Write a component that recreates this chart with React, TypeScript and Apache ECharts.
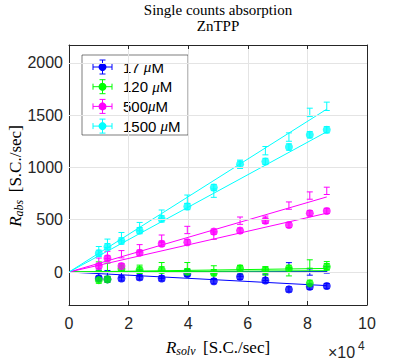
import React, { useEffect, useRef } from "react";
import * as echarts from "echarts";

// x positions (units of 10^4 S.C./sec)
const xVals = [1.0, 1.29, 1.76, 2.37, 3.11, 3.97, 4.86, 5.74, 6.59, 7.38, 8.08, 8.65];

// 17 uM
const blueDots = [-60, -70, -61, -51, -61, -19, -88, -45, -80, -166, -141, -134];
const blueBars = [-13, -15, -20, -10, -30, -5, -40, -10, -51, 60, 0, 20];
// 120 uM
const greenDots = [-77, -70, 30, 19, 20, 3, -6, 35, 19, 35, -108, 51];
const greenBars = [57, 45, 35, 26, 51, 51, 20, 20, 10, 3, 77, 60];
// 500 uM
const magentaDots = [57, 131, 57, 185, 271, 285, 386, 396, 491, 450, 562, 584];
const magentaBars = [99, 163, 170, 227, 319, 402, 348, 491, 500, 635, 731, 776];
// 1500 uM
const cyanDots = [179, 242, 297, 396, 508, 626, 808, 1030, 1057, 1195, 1312, 1360];
const cyanBars = [204, 275, 338, 434, 553, 696, 754, 1030, 1160, 1290, 1526, 1584];

// error half-lengths
const dotErr = [25, 30, 25, 30];
const barErr = [30, 40, 35, 40];

// fitted slopes through origin (per 10^4)
const upperSlopes = [0.5, 4, 83, 180];
const lowerSlopes = [-15, 1.5, 65, 155];
const fitXEnd = 8.65;

const colors = ["#0000ff", "#00ff00", "#ff00ff", "#00ffff"];
const legendNums = ["17 ", "120 ", "500", "1500 "];

const yTicks = [0, 500, 1000, 1500, 2000];
const yMin = -315;
const yMax = 2170;
const xTicks = [0, 2, 4, 6, 8, 10];

const titleLines = ["Single counts absorption", "ZnTPP"];
const xLabelMain = "R";
const xLabelSub = "solv";
const yLabelSub = "abs";
const unitText = "[S.C./sec]";

const dotsAll = [blueDots, greenDots, magentaDots, cyanDots];
const barsAll = [blueBars, greenBars, magentaBars, cyanBars];

const SERIF = "'Liberation Serif', 'DejaVu Serif', serif";
const SANS = "'Liberation Sans', Arial, sans-serif";

let measureCtx: CanvasRenderingContext2D | null = null;
function measure(text: string, size: number, family: string, italic = false): number {
  try {
    if (!measureCtx) measureCtx = document.createElement("canvas").getContext("2d");
    if (!measureCtx) return text.length * size * 0.55;
    measureCtx.font = (italic ? "italic " : "") + size + "px " + family;
    return measureCtx.measureText(text).width;
  } catch (e) {
    return text.length * size * 0.55;
  }
}
function fitSize(text: string, family: string, target: number, lo: number, hi: number, italic = false) {
  const w = measure(text, 100, family, italic);
  if (!(w > 0)) return (lo + hi) / 2;
  return Math.max(lo, Math.min(hi, (100 * target) / w));
}

function errSeries(ys: number[], err: number, color: string, z: number) {
  return {
    type: "custom",
    silent: true,
    z,
    clip: true,
    encode: { x: 0, y: 1 },
    data: xVals.map((x, i) => [x, ys[i], err]),
    renderItem: (params: any, api: any) => {
      const x = api.value(0);
      const y = api.value(1);
      const e = api.value(2);
      const t = api.coord([x, y + e]);
      const b = api.coord([x, y - e]);
      const w = 3;
      const st = { stroke: color, lineWidth: 1 };
      return {
        type: "group",
        children: [
          { type: "line", shape: { x1: t[0], y1: t[1], x2: b[0], y2: b[1] }, style: st },
          { type: "line", shape: { x1: t[0] - w, y1: t[1], x2: t[0] + w, y2: t[1] }, style: st },
          { type: "line", shape: { x1: b[0] - w, y1: b[1], x2: b[0] + w, y2: b[1] }, style: st },
        ],
      };
    },
  };
}

// text element whose vertical centre sits at cy
function txt(text: string, x: number, cy: number, size: number, family: string, italic = false, align = "left", fill = "#000") {
  return {
    type: "text",
    x,
    y: cy,
    style: {
      text,
      fontSize: size,
      fontFamily: family,
      fontStyle: italic ? "italic" : "normal",
      lineHeight: size,
      fill,
      align,
      verticalAlign: "middle",
    },
  };
}

export default function App() {
  const ref = useRef<HTMLDivElement>(null);
  useEffect(() => {
    if (!ref.current) return;
    const chart = echarts.init(ref.current, null, { renderer: "svg" });
    const axisCol = "#262626";
    const gridCol = "#e4e4e4";

    const series: any[] = [];
    // horizontal grid lines at the y tick values
    series.push({
      type: "line",
      silent: true,
      z: 0,
      symbol: "none",
      lineStyle: { opacity: 0 },
      data: [[0, 0]],
      markLine: {
        silent: true,
        symbol: "none",
        animation: false,
        label: { show: false },
        lineStyle: { color: gridCol, type: "solid", width: 1 },
        data: yTicks.map((v) => ({ yAxis: v })),
      },
    });
    colors.forEach((c, i) => {
      series.push(errSeries(barsAll[i], barErr[i], c, 2));
      series.push(errSeries(dotsAll[i], dotErr[i], c, 2));
      [upperSlopes[i], lowerSlopes[i]].forEach((s) => {
        series.push({
          type: "line",
          silent: true,
          z: 3,
          symbol: "none",
          lineStyle: { color: c, width: 1 },
          data: [
            [0, 0],
            [fitXEnd, s * fitXEnd],
          ],
        });
      });
      series.push({
        type: "scatter",
        silent: true,
        z: 4,
        symbol: "circle",
        symbolSize: 8,
        itemStyle: { color: c },
        data: xVals.map((x, k) => [x, dotsAll[i][k]]),
      });
    });

    // sizes fitted to the reference's text widths
    const titleSize = fitSize(titleLines[0], SERIF, 198, 13, 15);
    const labSize = fitSize(unitText, SERIF, 75, 13, 17);
    const subSize = labSize * 0.7;
    const legSize = fitSize("1500 M", SANS, 52, 12, 15);

    const legendChildren: any[] = [
      {
        type: "rect",
        shape: { x: 82, y: 55, width: 106, height: 80 },
        style: { fill: "#fff", stroke: axisCol, lineWidth: 0.6 },
      },
    ];
    colors.forEach((c, i) => {
      const cy = 67 + i * 19.7;
      const cx = 102.5;
      const st = { stroke: c, lineWidth: 1 };
      const wNum = measure(legendNums[i], legSize, SANS);
      const wMu = measure("μ", legSize, SERIF, true);
      legendChildren.push(
        { type: "line", shape: { x1: 93, y1: cy, x2: 112, y2: cy }, style: st },
        { type: "line", shape: { x1: 93, y1: cy - 3, x2: 93, y2: cy + 3 }, style: st },
        { type: "line", shape: { x1: 112, y1: cy - 3, x2: 112, y2: cy + 3 }, style: st },
        { type: "line", shape: { x1: cx, y1: cy - 7, x2: cx, y2: cy + 7 }, style: st },
        { type: "line", shape: { x1: cx - 3, y1: cy - 7, x2: cx + 3, y2: cy - 7 }, style: st },
        { type: "line", shape: { x1: cx - 3, y1: cy + 7, x2: cx + 3, y2: cy + 7 }, style: st },
        { type: "circle", shape: { cx, cy, r: 4 }, style: { fill: c } },
        txt(legendNums[i], 123, cy, legSize, SANS),
        txt("μ", 123 + wNum, cy, legSize, SERIF, true),
        txt("M", 123 + wNum + wMu, cy, legSize, SANS)
      );
    });

    // axis titles laid out from measured widths, centred on the plot
    const wR = measure(xLabelMain, labSize, SERIF, true);
    const wXs = measure(xLabelSub, subSize, SERIF, true);
    const wYs = measure(yLabelSub, subSize, SERIF, true);
    const wU = measure(unitText, labSize, SERIF);
    const gap = labSize * 0.45;
    const xTotal = wR + wXs + gap + wU;
    const xStart = 218 - xTotal / 2;
    const yTotal = wR + wYs + gap + wU;
    const yStart = 176 + yTotal / 2;

    const option: any = {
      animation: false,
      grid: { left: 69, right: 40, top: 45, bottom: 56 },
      xAxis: [
        {
          type: "value",
          min: xTicks[0],
          max: xTicks[xTicks.length - 1],
          interval: 2,
          position: "bottom",
          axisLine: { show: true, onZero: false, lineStyle: { color: axisCol } },
          axisTick: { show: true, inside: true, length: 4, lineStyle: { color: axisCol } },
          axisLabel: { fontSize: 16, fontFamily: SANS, color: axisCol, margin: 10 },
          splitLine: { show: true, lineStyle: { color: gridCol } },
        },
        {
          type: "value",
          min: xTicks[0],
          max: xTicks[xTicks.length - 1],
          interval: 2,
          position: "top",
          axisLine: { show: true, onZero: false, lineStyle: { color: axisCol } },
          axisTick: { show: true, inside: true, length: 4, lineStyle: { color: axisCol } },
          axisLabel: { show: false },
          splitLine: { show: false },
        },
      ],
      yAxis: [
        {
          type: "value",
          min: yMin,
          max: yMax,
          position: "left",
          axisLine: { show: true, onZero: false, lineStyle: { color: axisCol } },
          axisTick: { show: true, inside: true, length: 4, lineStyle: { color: axisCol }, customValues: yTicks },
          axisLabel: {
            fontSize: 16,
            fontFamily: SANS,
            color: axisCol,
            margin: 6,
            customValues: yTicks,
            formatter: (v: number) => String(v),
          },
          splitLine: { show: false },
        },
        {
          type: "value",
          min: yMin,
          max: yMax,
          position: "right",
          axisLine: { show: true, onZero: false, lineStyle: { color: axisCol } },
          axisTick: { show: true, inside: true, length: 4, lineStyle: { color: axisCol }, customValues: yTicks },
          axisLabel: { show: false },
          splitLine: { show: false },
        },
      ],
      series,
      graphic: [
        txt(titleLines[0], 218, 10, titleSize, SERIF, false, "center"),
        txt(titleLines[1], 218, 26, titleSize, SERIF, false, "center"),
        // x label
        txt(xLabelMain, xStart, 347, labSize, SERIF, true),
        txt(xLabelSub, xStart + wR, 351, subSize, SERIF, true),
        txt(unitText, xStart + wR + wXs + gap, 347, labSize, SERIF),
        // y label (rotated, reads bottom to top)
        {
          type: "group",
          x: 15,
          y: yStart,
          rotation: Math.PI / 2,
          children: [
            txt(xLabelMain, 0, 0, labSize, SERIF, true),
            txt(yLabelSub, wR, 4, subSize, SERIF, true),
            txt(unitText, wR + wYs + gap, 0, labSize, SERIF),
          ],
        },
        // x10^4
        txt("×10", 328, 352, 16, SANS, false, "left", axisCol),
        txt("4", 358, 346, 12, SANS, false, "left", axisCol),
        { type: "group", z: 100, children: legendChildren },
      ],
    };
    chart.setOption(option);
    return () => chart.dispose();
  }, []);
  return (
    <div
      ref={ref}
      style={{ position: "absolute", left: 0, top: 0, width: 407, height: 361 }}
    />
  );
}
